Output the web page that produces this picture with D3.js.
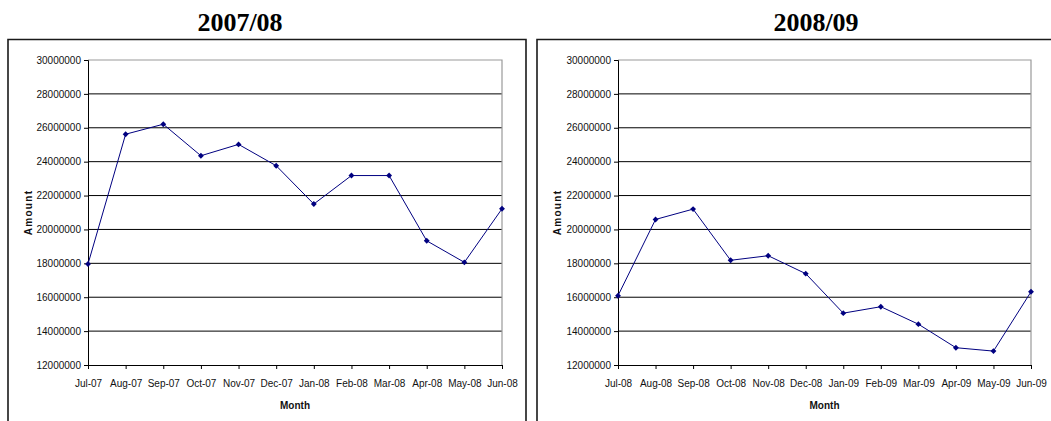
<!DOCTYPE html>
<html>
<head>
<meta charset="utf-8">
<script src="https://cdn.jsdelivr.net/npm/d3@7"></script>
<style>
  html, body { margin: 0; padding: 0; background: #fff; }
  svg { display: block; }
</style>
</head>
<body>
<svg id="chart" width="1051" height="421"></svg>
<script>
// ---- data ----
const titles = ["2007/08", "2008/09"];
const months1 = ["Jul-07","Aug-07","Sep-07","Oct-07","Nov-07","Dec-07","Jan-08","Feb-08","Mar-08","Apr-08","May-08","Jun-08"];
const values1 = [17960000, 25620000, 26210000, 24350000, 25020000, 23760000, 21500000, 23180000, 23180000, 19330000, 18060000, 21220000];
const months2 = ["Jul-08","Aug-08","Sep-08","Oct-08","Nov-08","Dec-08","Jan-09","Feb-09","Mar-09","Apr-09","May-09","Jun-09"];
const values2 = [16090000, 20590000, 21200000, 18180000, 18450000, 17390000, 15060000, 15440000, 14410000, 13020000, 12820000, 16320000];
const yTicks = [12000000, 14000000, 16000000, 18000000, 20000000, 22000000, 24000000, 26000000, 28000000, 30000000];
const xAxisTitle = "Month";
const yAxisTitle = "Amount";

const svg = d3.select("#chart");

function drawPanel(title, months, values, L) {
  const g = svg.append("g");

  // outer frame (open at bottom)
  g.append("path")
    .attr("d", `M${L.boxL},421 V${L.boxT} H${L.boxR} V421`)
    .attr("fill", "none").attr("stroke", "#1a1a1a").attr("stroke-width", 1.6);

  // title
  g.append("text")
    .attr("x", L.titleX).attr("y", 30.5)
    .attr("text-anchor", "middle")
    .attr("font-family", "'Liberation Serif', 'Times New Roman', serif")
    .attr("font-weight", "bold").attr("font-size", 26)
    .text(title);

  const x = d3.scalePoint().domain(months).range([L.plotL, L.plotR]);
  const y = d3.scaleLinear().domain([12000000, 30000000]).range([365, 60]);

  // gridlines
  g.append("g").selectAll("line")
    .data(yTicks.filter(t => t > 12000000 && t < 30000000))
    .join("line")
    .attr("x1", L.plotL).attr("x2", L.plotR)
    .attr("y1", d => y(d)).attr("y2", d => y(d))
    .attr("stroke", "#000").attr("stroke-width", 1);

  // plot-area border top & right (gray)
  g.append("path")
    .attr("d", `M${L.plotL},${y(30000000)} H${L.plotR} V${y(12000000)}`)
    .attr("fill", "none").attr("stroke", "#9a9a9a").attr("stroke-width", 1.2);

  // y axis
  const ya = g.append("g").attr("transform", `translate(${L.plotL},0)`)
    .call(d3.axisLeft(y).tickValues(yTicks).tickSize(4).tickPadding(3).tickFormat(d3.format("d")));
  ya.select(".domain").attr("stroke", "#000");
  ya.selectAll(".tick line").attr("stroke", "#000");
  ya.selectAll("text").attr("font-family", "'Liberation Sans', Arial, sans-serif")
    .attr("font-size", 10).attr("fill", "#111");

  // x axis
  const xa = g.append("g").attr("transform", `translate(0,${y(12000000)})`)
    .call(d3.axisBottom(x).tickSize(4).tickPadding(11).tickSizeOuter(0));
  xa.select(".domain").attr("stroke", "#000");
  xa.selectAll(".tick line").attr("stroke", "#000");
  xa.selectAll("text").attr("font-family", "'Liberation Sans', Arial, sans-serif")
    .attr("font-size", 10).attr("fill", "#111");

  // axis titles
  g.append("text")
    .attr("x", (L.plotL + L.plotR) / 2).attr("y", 409)
    .attr("text-anchor", "middle")
    .attr("font-family", "'Liberation Sans', Arial, sans-serif")
    .attr("font-weight", "bold").attr("font-size", 10).attr("fill", "#111")
    .text(xAxisTitle);

  g.append("text")
    .attr("transform", `translate(${L.ytX},${(y(12000000) + y(30000000)) / 2}) rotate(-90)`)
    .attr("text-anchor", "middle")
    .attr("font-family", "'Liberation Sans', Arial, sans-serif")
    .attr("font-weight", "bold").attr("font-size", 10).attr("fill", "#111")
    .attr("letter-spacing", "1.3px")
    .text(yAxisTitle);

  // line
  const pts = months.map((m, i) => [x(m), y(values[i])]);
  g.append("path")
    .attr("d", d3.line()(pts))
    .attr("fill", "none").attr("stroke", "#000080").attr("stroke-width", 1);

  // diamond markers
  g.append("g").selectAll("path")
    .data(pts).join("path")
    .attr("d", d3.symbol().type(d3.symbolDiamond2).size(22))
    .attr("transform", d => `translate(${d[0]},${d[1]})`)
    .attr("fill", "#000080");
}

drawPanel(titles[0], months1, values1,
  { boxL: 8, boxR: 526, boxT: 39.5, plotL: 88, plotR: 502, titleX: 240, ytX: 32 });
drawPanel(titles[1], months2, values2,
  { boxL: 537, boxR: 1060, boxT: 39.5, plotL: 618, plotR: 1031, titleX: 816, ytX: 561 });
</script>
</body>
</html>
